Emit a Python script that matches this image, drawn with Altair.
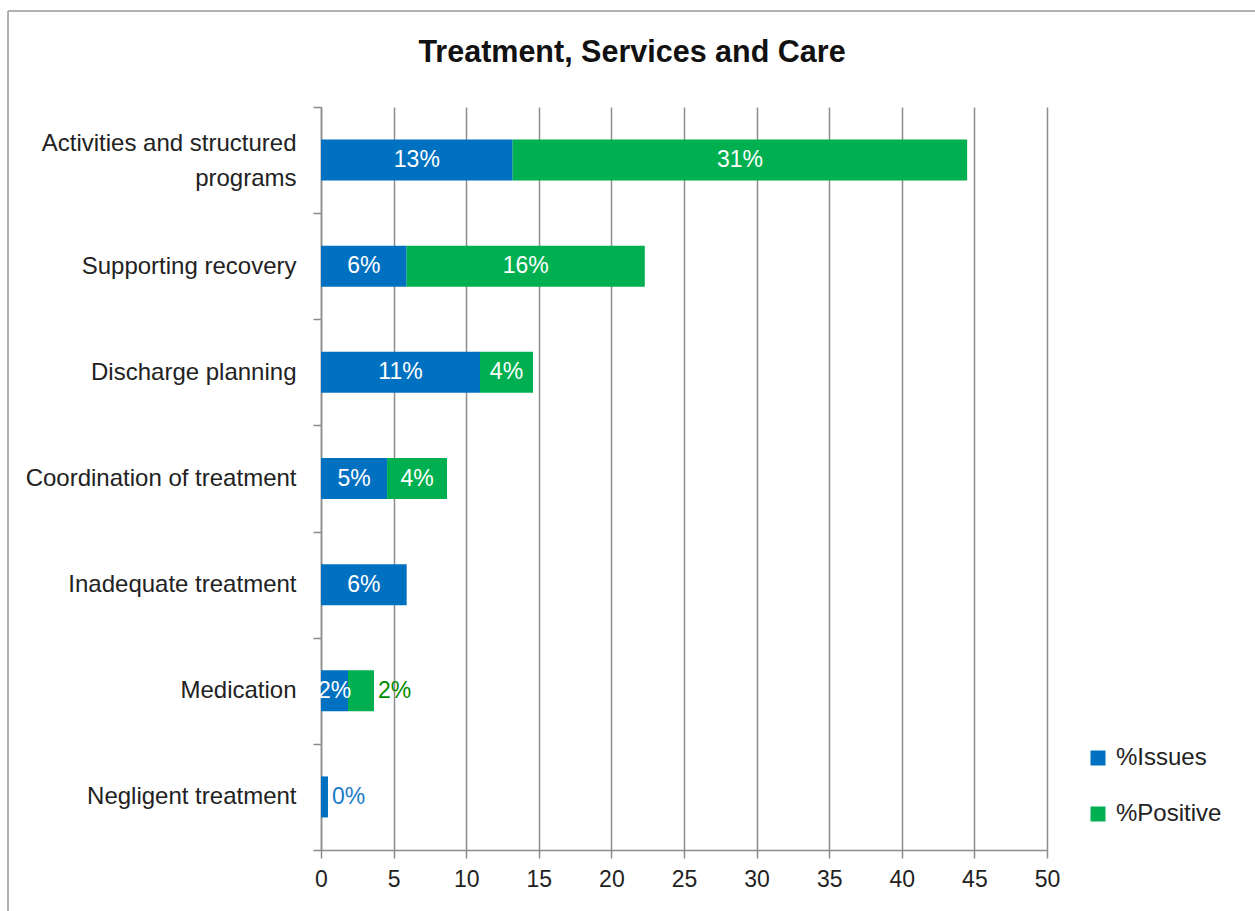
import altair as alt
import pandas as pd

categories = ["Activities and structured programs", "Supporting recovery", "Discharge planning",
              "Coordination of treatment", "Inadequate treatment", "Medication", "Negligent treatment"]
issues = [13.2, 5.9, 10.95, 4.55, 5.9, 1.86, 0.48]
positive = [31.3, 16.4, 3.65, 4.13, 0.0, 1.79, 0.0]
series_names = ["%Issues", "%Positive"]
colors = ["#0070C0", "#00B050"]
x_ticks = [0, 5, 10, 15, 20, 25, 30, 35, 40, 45, 50]
# labels drawn outside the bar end (category, series)
outside_labels = [("Medication", "%Positive"), ("Negligent treatment", "%Issues")]

rows = []
for c, a, b in zip(categories, issues, positive):
    rows.append(dict(category=c, series="%Issues", start=0.0, end=a, value=a))
    if b > 0:
        rows.append(dict(category=c, series="%Positive", start=a, end=a + b, value=b))
df = pd.DataFrame(rows)
df["mid"] = (df["start"] + df["end"]) / 2
df["label"] = df["value"].round().astype(int).astype(str) + "%"
df["outside"] = [(c, s) in outside_labels for c, s in zip(df["category"], df["series"])]

FONT = "Liberation Sans, Arial, sans-serif"
LONG = categories[0]

yenc = alt.Y("category:N", sort=categories, title=None,
             scale=alt.Scale(paddingInner=0, paddingOuter=0),
             axis=alt.Axis(tickBand="extent", grid=False, domainColor="#8c8c8c", tickColor="#8c8c8c",
                           domainWidth=1.5, tickWidth=1.5, tickSize=8, labelPadding=17,
                           labelFontSize=24, labelColor="#222222", labelFont=FONT, labelLimit=400,
                           labelLineHeight=35,
                           labelOffset={"condition": {"test": f"datum.value == '{LONG}'", "value": -17},
                                        "value": 0},
                           labelExpr=f"datum.label == '{LONG}' ? ['Activities and structured', 'programs'] : datum.label"))

xscale = alt.Scale(domain=[0, 50], nice=False)

bars = alt.Chart(df).mark_bar(size=41).encode(
    x=alt.X("start:Q", scale=xscale, title=None,
            axis=alt.Axis(values=x_ticks, grid=True, gridColor="#8c8c8c", gridWidth=1.5,
                          domainColor="#8c8c8c", domainWidth=1.5, tickColor="#8c8c8c", tickWidth=1.5,
                          tickSize=8, labelFontSize=23, labelColor="#222222", labelFont=FONT,
                          labelPadding=10, labelFlush=False)),
    x2="end:Q",
    y=yenc,
    color=alt.Color("series:N", scale=alt.Scale(domain=series_names, range=colors),
                    legend=alt.Legend(title=None, orient="none", legendX=765, legendY=639,
                                      symbolType="square", symbolSize=225, symbolStrokeWidth=0,
                                      labelFontSize=24, labelFont=FONT, labelColor="#222222",
                                      labelOffset=6, rowPadding=32, padding=0)),
)

inside = alt.Chart(df).transform_filter("!datum.outside").mark_text(
    color="white", fontSize=23, font=FONT, align="center", baseline="middle"
).encode(x=alt.X("mid:Q", scale=xscale), y=alt.Y("category:N", sort=categories), text="label:N")

outside = alt.Chart(df).transform_filter("datum.outside").mark_text(
    fontSize=23, font=FONT, align="left", baseline="middle", dx=4
).encode(x=alt.X("end:Q", scale=xscale), y=alt.Y("category:N", sort=categories), text="label:N",
         color=alt.Color("series:N", scale=alt.Scale(domain=series_names, range=["#1C7CC8", "#008A00"]),
                         legend=None))

frame_top = alt.Chart(df.head(1)).mark_rule(color="#999999", strokeWidth=1.5).encode(
    x=alt.value(-313), x2=alt.value(940), y=alt.value(-96))
frame_left = alt.Chart(df.head(1)).mark_rule(color="#999999", strokeWidth=1.5).encode(
    x=alt.value(-313), y=alt.value(-96), y2=alt.value(810))

chart = alt.layer(bars, inside, outside, frame_top, frame_left).resolve_scale(color="independent").properties(
    width=726, height=743,
    view=alt.ViewBackground(strokeOpacity=0, strokeWidth=0),
    title=alt.TitleParams("Treatment, Services and Care", fontSize=30.5, font=FONT, fontWeight="bold",
                          color="#111111", anchor="middle", frame="group", dx=-52, offset=-58),
    autosize=alt.AutoSizeParams(type="none"),
    padding={"left": 321, "top": 107, "right": 208, "bottom": 61},
).configure_view(strokeOpacity=0, strokeWidth=0).configure(background="white")

chart.save("out.html", embed_options={"renderer": "svg", "actions": False})
